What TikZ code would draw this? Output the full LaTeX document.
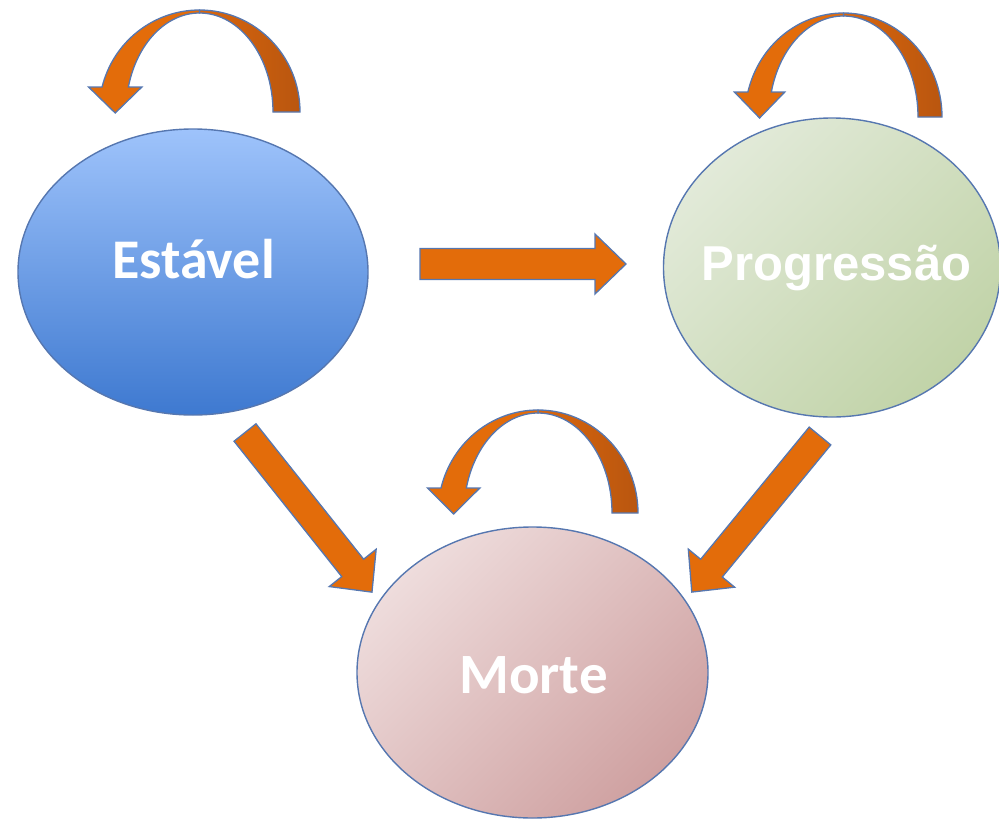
\documentclass[tikz,border=0pt]{standalone}
\usepackage{fontspec}
\newfontfamily\calfont{Carlito}
\newfontfamily\arfont{Liberation Sans}
\usetikzlibrary{shapes.geometric}

\definecolor{edge}{HTML}{5677B0}
\definecolor{orangeA}{HTML}{E36C0A}
\definecolor{orangeL}{HTML}{D9660D}
\definecolor{orangeR}{HTML}{B9560F}
\definecolor{estTop}{HTML}{9EC3FB}
\definecolor{estBot}{HTML}{3E79D0}
\definecolor{proLight}{HTML}{E2EAD9}
\definecolor{proDark}{HTML}{C1D3A8}
\definecolor{morLight}{HTML}{EEDCDC}
\definecolor{morDark}{HTML}{CFA1A1}

\tikzset{
  state/.style={ellipse, draw=edge, line width=1.4pt, inner sep=0pt},
  stlabel/.style={text=white, anchor=base, inner sep=0pt},
  blockarrow/.style={fill=orangeA, draw=edge, line width=1.3pt, line join=miter},
  loopfront/.style={fill=orangeA, draw=edge, line width=1.3pt},
  loopback/.style={left color=orangeL, right color=orangeR, draw=edge, line width=1.3pt},
}

% straight block arrow: start point, rotation, length, shaft half width
\newcommand\blockarr[4]{%
  \begin{scope}[shift={#1}, rotate=#2]
    \filldraw[blockarrow] (0,-#4) -- ({#3-31},-#4) -- ({#3-31},-30) -- (#3,0)
      -- ({#3-31},30) -- ({#3-31},#4) -- (0,#4) -- cycle;
  \end{scope}}

% self loop over a state: centre x, base y, outer x radius, outer y radius, band width
\newcommand\selfloop[5]{%
  \pgfmathsetmacro\ao{180-asin(25/#4)}
  \pgfmathsetmacro\ai{180-asin(25/(#4-3))}
  \pgfmathsetmacro\xo{#1+#3*cos(\ao)}
  \pgfmathsetmacro\xi{#1+(#3-#5)*cos(\ai)}
  \pgfmathsetmacro\hc{(\xo+\xi)/2}
  % rear half, running from the tail up to the crest
  \path[loopback] ({#1+#3},#2) arc[start angle=0, end angle=90, x radius=#3pt, y radius=#4pt]
    -- (#1,{#2-#4+3}) arc[start angle=90, end angle=0, x radius={(#3-#5)*1pt}, y radius={(#4-3)*1pt}]
    -- cycle;
  % front half with the arrow head
  \path[loopfront] (#1,{#2-#4}) arc[start angle=90, end angle=\ao, x radius=#3pt, y radius=#4pt]
    -- ({\xo-13.5},{#2-25}) -- (\hc,{#2+1}) -- ({\xi+13.5},{#2-25})
    -- (\xi,{#2-25}) arc[start angle=\ai, end angle=90, x radius={(#3-#5)*1pt}, y radius={(#4-3)*1pt}]
    -- cycle;}

\begin{document}
\begin{tikzpicture}[x=1pt, y=-1pt]
\useasboundingbox (0,0) rectangle (999,825);

% states
\node[state, minimum width=350pt, minimum height=286pt,
      top color=estTop, bottom color=estBot] (est) at (193,272) {};
\node[state, minimum width=337pt, minimum height=299pt,
      top color=proLight, bottom color=proDark, shading angle=45] (pro) at (832,267.5) {};
\node[state, minimum width=351pt, minimum height=291pt,
      top color=morLight, bottom color=morDark, shading angle=45] (mor) at (532.5,672.5) {};

\node[stlabel, font=\calfont\bfseries\fontsize{56}{64}\selectfont] (estL) at (193.5,278) {Estável};
\node[stlabel, font=\arfont\bfseries\fontsize{49}{58}\selectfont] (proL) at (836.5,280) {Progressão};
\node[stlabel, font=\calfont\bfseries\fontsize{57}{64}\selectfont] (morL) at (533.5,693) {Morte};

% transitions between states
\coordinate (e2p) at (420,264);
\coordinate (e2m) at (245,432.5);
\coordinate (p2m) at (820,436);
\blockarr{(e2p)}{0}{206}{15.5}
\blockarr{(e2m)}{-51.5}{204}{14}
\blockarr{(p2m)}{-129.4}{202}{14}

% staying in the same state
\selfloop{199.5}{112}{100.5}{102}{27}
\selfloop{843.5}{117}{98.5}{104}{24}
\selfloop{538}{513}{100}{103}{26}
\end{tikzpicture}
\end{document}
